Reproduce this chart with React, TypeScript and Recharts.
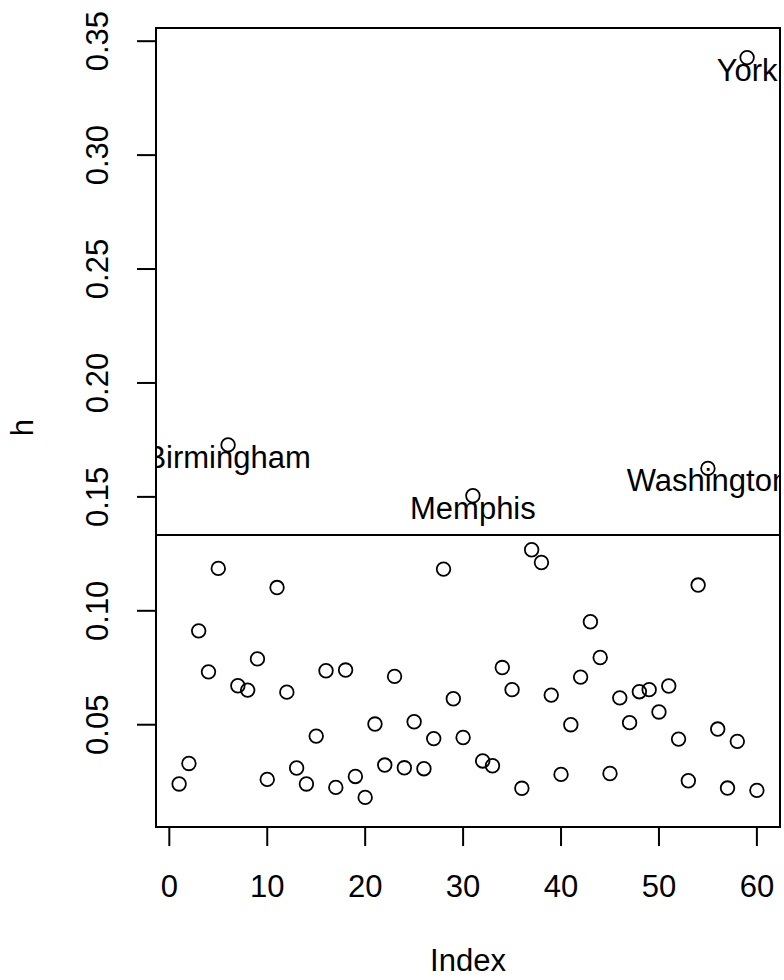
import React from 'react'
import { ScatterChart, Scatter, XAxis, YAxis, ReferenceLine, ReferenceArea } from 'recharts'

// hat values by observation index
const hatValues = [
  0.024, 0.033, 0.0912, 0.0732, 0.1186, 0.1728, 0.0671, 0.0652, 0.0789, 0.026,
  0.1102, 0.0643, 0.031, 0.024, 0.045, 0.0737, 0.0225, 0.074, 0.0273, 0.0181,
  0.0503, 0.0323, 0.0712, 0.0311, 0.0513, 0.0307, 0.0439, 0.1183, 0.0614, 0.0444,
  0.1505, 0.0341, 0.032, 0.0751, 0.0654, 0.0221, 0.1268, 0.1212, 0.063, 0.0282,
  0.05, 0.0709, 0.0952, 0.0795, 0.0286, 0.0618, 0.0509, 0.0645, 0.0654, 0.0556,
  0.067, 0.0437, 0.0254, 0.1113, 0.1625, 0.0481, 0.0222, 0.0427, 0.3428, 0.0212,
]
const labelledIndex = [6, 31, 55, 59]
const labelNames = ['Birmingham', 'Memphis', 'Washington', 'York']
const cutoff = 0.1333
const xTicks = [0, 10, 20, 30, 40, 50, 60]
const yTicks = [0.05, 0.1, 0.15, 0.2, 0.25, 0.3, 0.35]

const points = hatValues.map((h, i) => ({ index: i + 1, h }))
const labelled = labelledIndex.map((idx, i) => ({ index: idx, h: hatValues[idx - 1], name: labelNames[i] }))

// R-style 4% axis padding
const pad = (lo: number, hi: number): [number, number] => {
  const r = hi - lo
  return [lo - 0.04 * r, hi + 0.04 * r]
}
const xDomain = pad(1, hatValues.length)
const yDomain = pad(Math.min(...hatValues), Math.max(...hatValues))

const W = 784
const H = 980
const LEFT = 156
const TOP = 28
const RIGHT = 780
const BOTTOM = 827
const FONT = '"Liberation Sans", Arial, Helvetica, sans-serif'
const FS = 31

function Ring(props: any) {
  const { cx, cy } = props
  return <circle cx={cx} cy={cy} r={6.8} fill="none" stroke="#000" strokeWidth={1.8} />
}

function PointLabel(props: any) {
  const { cx, cy, payload } = props
  return (
    <text x={cx} y={cy + 23} textAnchor="middle" fontFamily={FONT} fontSize={FS} fill="#000" clipPath="url(#plotClip)">
      {payload.name}
    </text>
  )
}

function XTick(props: any) {
  const { x, payload } = props
  return (
    <g>
      <line x1={x} x2={x} y1={BOTTOM} y2={BOTTOM + 19} stroke="#000" strokeWidth={2} />
      <text x={x} y={BOTTOM + 70} textAnchor="middle" fontFamily={FONT} fontSize={FS} fill="#000">
        {payload.value}
      </text>
    </g>
  )
}

function YTick(props: any) {
  const { y, payload } = props
  return (
    <g>
      <line x1={LEFT - 19} x2={LEFT} y1={y} y2={y} stroke="#000" strokeWidth={2} />
      <text transform={`translate(${LEFT - 48},${y}) rotate(-90)`} textAnchor="middle" fontFamily={FONT} fontSize={FS} fill="#000">
        {payload.value.toFixed(2)}
      </text>
    </g>
  )
}

export default function App() {
  return (
    <div style={{ position: 'absolute', left: 0, top: 0, background: '#fff' }}>
      <ScatterChart width={W} height={H} margin={{ top: TOP, right: W - RIGHT, bottom: 0, left: 0 }}>
        <defs>
          <clipPath id="plotClip">
            <rect x={LEFT} y={TOP} width={RIGHT - LEFT} height={BOTTOM - TOP} />
          </clipPath>
        </defs>
        <XAxis
          type="number"
          dataKey="index"
          domain={xDomain}
          allowDataOverflow
          ticks={xTicks}
          height={H - BOTTOM}
          axisLine={false}
          tickLine={false}
          tick={<XTick />}
          interval={0}
          label={{
            content: () => (
              <text x={(LEFT + RIGHT) / 2} y={971} textAnchor="middle" fontFamily={FONT} fontSize={FS} fill="#000">
                Index
              </text>
            ),
          }}
        />
        <YAxis
          type="number"
          dataKey="h"
          domain={yDomain}
          allowDataOverflow
          ticks={yTicks}
          width={LEFT}
          axisLine={false}
          tickLine={false}
          tick={<YTick />}
          interval={0}
          label={{
            content: () => (
              <text transform={`translate(33,${(TOP + BOTTOM) / 2}) rotate(-90)`} textAnchor="middle" fontFamily={FONT} fontSize={FS} fill="#000">
                h
              </text>
            ),
          }}
        />
        <ReferenceArea
          x1={xDomain[0]}
          x2={xDomain[1]}
          y1={yDomain[0]}
          y2={yDomain[1]}
          fill="none"
          fillOpacity={0}
          stroke="#000"
          strokeWidth={2}
          ifOverflow="visible"
        />
        <ReferenceLine y={cutoff} stroke="#000" strokeWidth={2} />
        <Scatter data={points} shape={<Ring />} isAnimationActive={false} />
        <Scatter data={labelled} shape={<PointLabel />} isAnimationActive={false} />
      </ScatterChart>
    </div>
  )
}
